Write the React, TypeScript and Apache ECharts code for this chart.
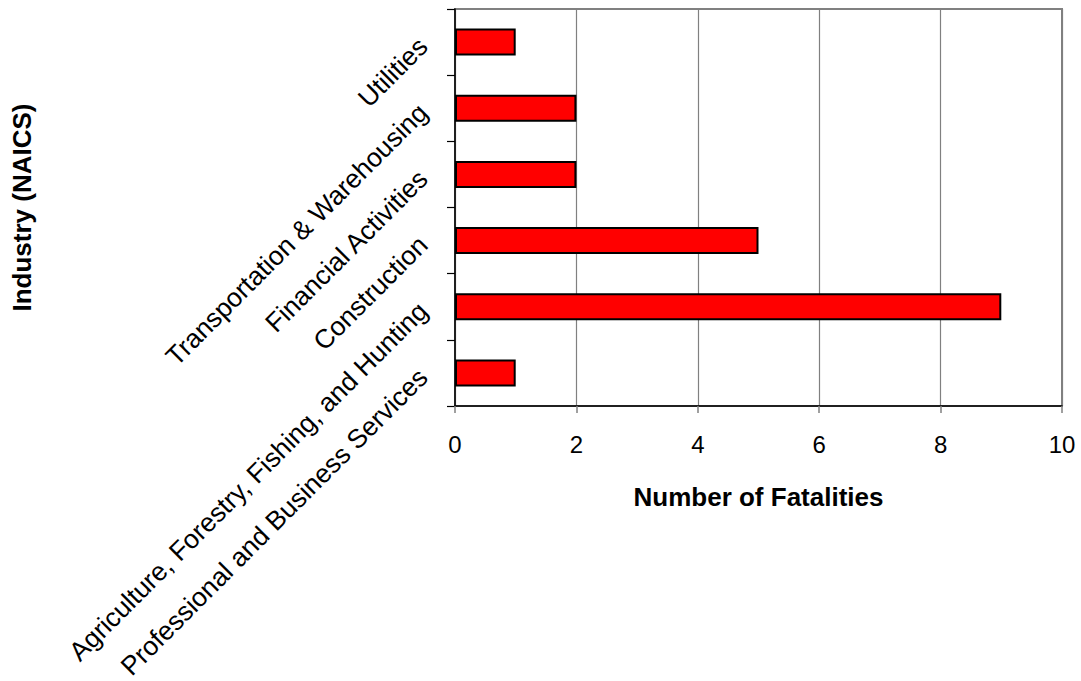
import React, { useEffect, useRef } from "react";
import * as echarts from "echarts";

const categories = [
  "Professional and Business Services",
  "Agriculture, Forestry, Fishing, and Hunting",
  "Construction",
  "Financial Activities",
  "Transportation & Warehousing",
  "Utilities",
];
const fatalities = [1, 9, 5, 2, 2, 1];
const xTicks = { min: 0, max: 10, interval: 2 };
const xAxisTitle = "Number of Fatalities";
const yAxisTitle = "Industry (NAICS)";

const FONT = "Arial, 'Liberation Sans', sans-serif";

export default function App() {
  const ref = useRef<HTMLDivElement>(null);
  useEffect(() => {
    if (!ref.current) return;
    const chart = echarts.init(ref.current, null, { renderer: "svg" });
    chart.setOption({
      animation: false,
      backgroundColor: "#ffffff",
      grid: {
        left: 455,
        right: 19,
        top: 9,
        bottom: 275,
        containLabel: false,
        outerBoundsMode: "none",
        show: true,
        borderColor: "#808080",
        borderWidth: 2,
        backgroundColor: "transparent",
      },
      xAxis: {
        type: "value",
        min: xTicks.min,
        max: xTicks.max,
        interval: xTicks.interval,
        name: xAxisTitle,
        nameLocation: "middle",
        nameGap: 78,
        nameTextStyle: { fontFamily: FONT, fontSize: 26, fontWeight: "bold", color: "#000" },
        axisLine: { show: true, lineStyle: { color: "#000", width: 1.5 } },
        axisTick: { show: true, length: 7, lineStyle: { color: "#808080", width: 1.5 } },
        axisLabel: { fontFamily: FONT, fontSize: 24, color: "#000", margin: 26 },
        splitLine: { show: true, lineStyle: { color: "#808080", width: 1.2 } },
      },
      yAxis: {
        type: "category",
        data: categories,
        name: yAxisTitle,
        nameLocation: "middle",
        nameGap: 420,
        nameTextStyle: { fontFamily: FONT, fontSize: 26, fontWeight: "bold", color: "#000" },
        axisLine: { show: true, lineStyle: { color: "#000", width: 1.5 } },
        axisTick: { show: true, length: 8, lineStyle: { color: "#000", width: 1.2 } },
        axisLabel: {
          fontFamily: FONT,
          fontSize: 26.5,
          color: "#000",
          rotate: 45,
          margin: 32,
          interval: 0,
        },
        splitLine: { show: false },
      },
      series: [
        {
          type: "bar",
          data: fatalities,
          barWidth: 27,
          itemStyle: { color: "#ff0000", borderColor: "#000", borderWidth: 2 },
        },
      ],
    });
    return () => chart.dispose();
  }, []);
  return (
    <div
      ref={ref}
      style={{ position: "absolute", left: 0, top: 0, width: 1081, height: 681 }}
    />
  );
}
